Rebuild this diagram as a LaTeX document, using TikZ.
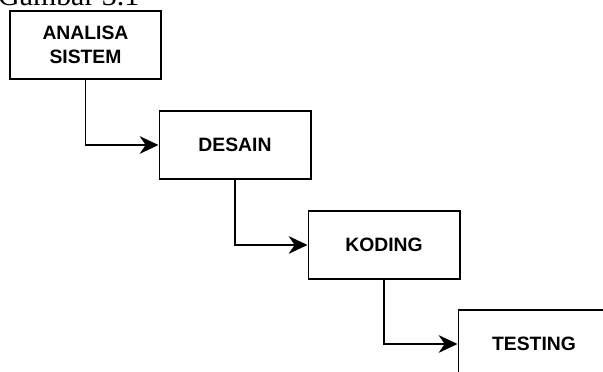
\documentclass[tikz,border=0pt]{standalone}
\usepackage{fontspec}
\setmainfont{Liberation Sans}
\newfontfamily\captionfont{Liberation Serif}
\usetikzlibrary{arrows.meta}
\tikzset{
	stage/.style={draw, line width=1.7pt, minimum width=4.53cm, minimum height=2.04cm, inner sep=0pt, align=center, font=\fontsize{16.5}{20.5}\selectfont\bfseries},
	flow/.style={line width=1.7pt, -{Stealth[length=16pt, width=15pt, inset=5pt]}}
}

\begin{document}
\begin{tikzpicture}[x=0.03cm, y=-0.03cm]
			%%%%% START %%%%%
			\useasboundingbox (0, 0) rectangle (603, 372);
			
			\node[anchor=base west, inner sep=0pt, font=\captionfont\fontsize{25.5}{30}\selectfont] (caption) at (-2, 6) {Gambar 3.1};
			
			\node[stage] (analisa) at (85.5, 45) {ANALISA\\SISTEM};
			\node[stage] (desain) at (235, 145) {DESAIN};
			\node[stage] (koding) at (384, 245) {KODING};
			\node[stage] (testing) at (534, 344) {TESTING};
			
			\draw[flow] (analisa.south) |- (desain.west);
			\draw[flow] (desain.south) |- (koding.west);
			\draw[flow] (koding.south) |- (testing.west);
			
			%%%%% END %%%%%
		\end{tikzpicture}
\end{document}
